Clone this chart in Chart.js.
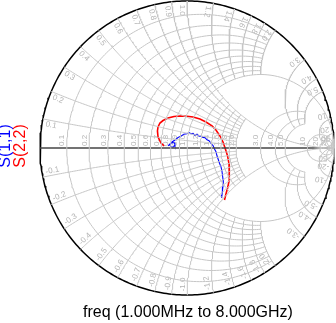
<!DOCTYPE html>
<html>
<head>
<meta charset="utf-8">
<script src="https://cdn.jsdelivr.net/npm/chart.js@4.4.1/dist/chart.umd.min.js"></script>
<style>
  html, body { margin: 0; padding: 0; background: #fff; }
  canvas { display: block; }
</style>
</head>
<body>
<canvas id="smith" width="336" height="323"></canvas>
<script>
const freqLabel = "freq (1.000MHz to 8.000GHz)";
const seriesNames = ["S(1,1)", "S(2,2)"];
const seriesColors = ["#0000ff", "#ff0000"];

const s11Re = [-0.129, -0.116, -0.102, -0.085, -0.082, -0.092, -0.109, -0.116, -0.102, -0.082,
  -0.061, -0.041, -0.022, 0.000, 0.014, 0.027, 0.041, 0.054, 0.068, 0.082,
  0.095, 0.109, 0.122, 0.136, 0.150, 0.163, 0.177, 0.187, 0.197, 0.204,
  0.211, 0.221, 0.231, 0.238, 0.241, 0.245, 0.247, 0.244, 0.241, 0.238, 0.235];
const s11Im = [0.014, 0.027, 0.037, 0.034, 0.020, 0.007, 0.007, 0.020, 0.041, 0.054,
  0.071, 0.080, 0.094, 0.097, 0.104, 0.097, 0.099, 0.086, 0.094, 0.080,
  0.081, 0.072, 0.070, 0.056, 0.050, 0.032, 0.016, -0.007, -0.025, -0.053,
  -0.073, -0.104, -0.127, -0.158, -0.182, -0.213, -0.236, -0.266, -0.292, -0.321, -0.340];
const s22Re = [-0.156, -0.177, -0.197, -0.201, -0.197, -0.184, -0.163, -0.129, -0.088, -0.048,
  0.000, 0.041, 0.088, 0.129, 0.170, 0.197, 0.224, 0.245, 0.259, 0.276,
  0.286, 0.289, 0.286, 0.276, 0.265, 0.255];
const s22Im = [0.014, 0.034, 0.075, 0.116, 0.143, 0.170, 0.187, 0.204, 0.214, 0.218,
  0.216, 0.211, 0.197, 0.177, 0.150, 0.122, 0.082, 0.041, 0.000, -0.054,
  -0.109, -0.163, -0.218, -0.272, -0.313, -0.354];

// grid values and where each circle / arc is cut off
const resistanceValues = [0.1, 0.2, 0.3, 0.4, 0.5, 0.6, 0.7, 0.8, 0.9, 1.0,
  1.2, 1.4, 1.6, 1.8, 2.0, 3, 4, 5, 10, 20, 50];
const gridLimits = [2, 2, 2, 2, 2, 2, 2, 2, 2, Infinity,
  1, 1, 1, 1, 1, 5, 5, 5, Infinity, Infinity, Infinity];
const reactanceValues = resistanceValues;
const tickLabels = ["0.1", "0.2", "0.3", "0.4", "0.5", "0.6", "0.7", "0.8", "0.9", "1.0",
  "1.2", "1.4", "1.6", "1.8", "2.0", "3.0", "4.0", "5.0", "10", "20", "50"];

function gamma(r, x) {
  const d = (r + 1) * (r + 1) + x * x;
  return { x: (r * r + x * x - 1) / d, y: (2 * x) / d };
}

function endAngle(limit) {
  return limit === Infinity ? Math.PI / 2 - 1e-4 : Math.atan(limit);
}

const gridColor = "#c6c6c6";
const datasets = [];

function lineSet(points, color, width) {
  return {
    data: points,
    showLine: true,
    borderColor: color,
    borderWidth: width,
    pointRadius: 0,
    pointHitRadius: 0,
    tension: 0,
    clip: false,
  };
}

resistanceValues.forEach((r, i) => {
  const top = endAngle(gridLimits[i]);
  const pts = [];
  for (let k = 0; k <= 200; k++) {
    const t = -top + (2 * top * k) / 200;
    pts.push(gamma(r, Math.tan(t)));
  }
  datasets.push(lineSet(pts, gridColor, 1));
});

reactanceValues.forEach((x, i) => {
  const top = endAngle(gridLimits[i]);
  [1, -1].forEach((sign) => {
    const pts = [];
    for (let k = 0; k <= 150; k++) {
      const t = (top * k) / 150;
      pts.push(gamma(Math.tan(t), sign * x));
    }
    datasets.push(lineSet(pts, gridColor, 1));
  });
});

datasets.push(lineSet([{ x: -1, y: 0 }, { x: 1, y: 0 }], "#444444", 1.5));

const rim = [];
for (let k = 0; k <= 360; k++) {
  const a = (k / 360) * 2 * Math.PI;
  rim.push({ x: Math.cos(a), y: Math.sin(a) });
}
datasets.push(lineSet(rim, "#000000", 1.5));

const s22 = s22Re.map((v, i) => ({ x: v, y: s22Im[i] }));
const s11 = s11Re.map((v, i) => ({ x: v, y: s11Im[i] }));
datasets.push(lineSet(s22, seriesColors[1], 1.6));
datasets.push(lineSet(s11, seriesColors[0], 1.1));

const smithText = {
  id: "smithText",
  beforeDatasetsDraw(chart) {
    const ctx = chart.ctx;
    const xs = chart.scales.x;
    const ys = chart.scales.y;
    const cx = xs.getPixelForValue(0);
    const cy = ys.getPixelForValue(0);
    const rad = xs.getPixelForValue(1) - cx;

    ctx.save();
    ctx.fillStyle = "#b4b4b4";
    ctx.font = "8px 'Liberation Sans', Arial, sans-serif";

    // resistance labels along the real axis
    resistanceValues.forEach((r, i) => {
      const px = xs.getPixelForValue((r - 1) / (r + 1));
      ctx.save();
      ctx.translate(px - 0.5, cy - 2);
      ctx.rotate(-Math.PI / 2);
      ctx.textAlign = "left";
      ctx.textBaseline = "bottom";
      ctx.fillText(tickLabels[i], 0, 0);
      ctx.restore();
    });

    // reactance labels around the rim, reading inwards
    reactanceValues.forEach((x, i) => {
      [1, -1].forEach((sign) => {
        const phi = sign * (Math.PI - 2 * Math.atan(x));
        const px = cx + rad * 0.975 * Math.cos(phi);
        const py = cy - rad * 0.975 * Math.sin(phi);
        ctx.save();
        ctx.translate(px, py);
        ctx.rotate(Math.atan2(Math.sin(phi), -Math.cos(phi)));
        ctx.textAlign = "left";
        ctx.textBaseline = sign > 0 ? "top" : "bottom";
        ctx.fillText((sign < 0 ? "-" : "") + tickLabels[i], 0, sign > 0 ? 0.5 : -0.5);
        ctx.restore();
      });
    });
    ctx.restore();
  },
  afterDraw(chart) {
    const ctx = chart.ctx;
    const cy = chart.scales.y.getPixelForValue(0);
    const cx = chart.scales.x.getPixelForValue(0);
    ctx.save();
    ctx.font = "16px 'Liberation Sans', Arial, sans-serif";
    ctx.textAlign = "center";
    ctx.textBaseline = "middle";
    [6, 21].forEach((lx, i) => {
      ctx.save();
      ctx.translate(lx, cy - 2);
      ctx.rotate(-Math.PI / 2);
      ctx.fillStyle = seriesColors[i];
      ctx.fillText(seriesNames[i], 0, 0);
      ctx.restore();
    });
    ctx.fillStyle = "#000000";
    ctx.fillText(freqLabel, cx + 1, 313);
    ctx.restore();
  },
};

new Chart(document.getElementById("smith"), {
  type: "scatter",
  data: { datasets },
  options: {
    responsive: false,
    animation: false,
    devicePixelRatio: 1,
    events: [],
    layout: { padding: { left: 40, right: 2, top: 1, bottom: 28 } },
    scales: {
      x: { display: false, min: -1, max: 1 },
      y: { display: false, min: -1, max: 1 },
    },
    plugins: { legend: { display: false }, tooltip: { enabled: false } },
  },
  plugins: [smithText],
});
</script>
</body>
</html>
